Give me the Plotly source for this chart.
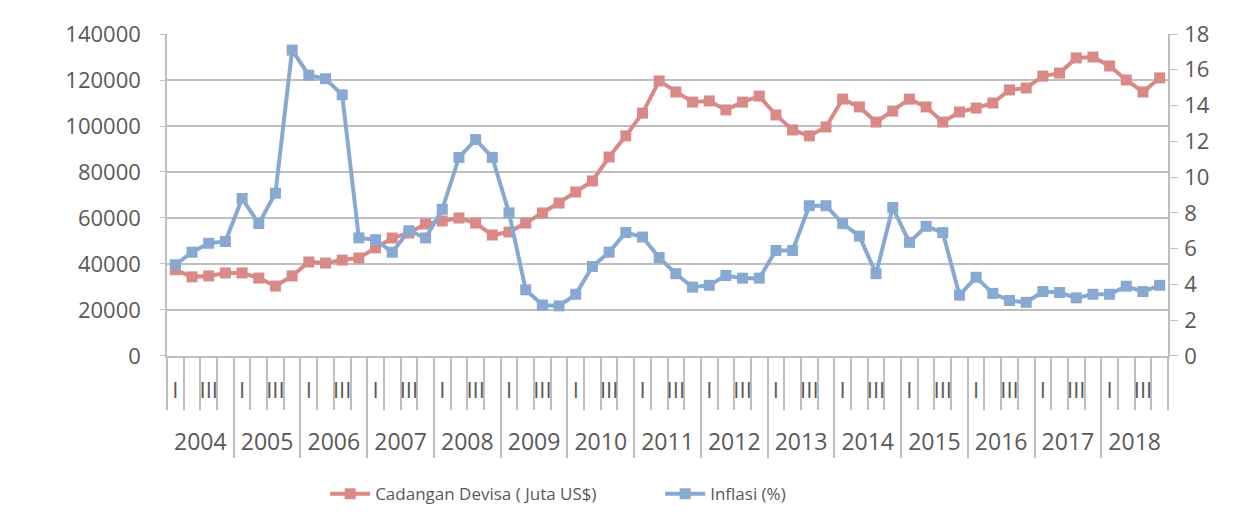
import plotly.graph_objects as go

years = [str(y) for y in range(2004, 2019)]
quarters = ["I", "II", "III", "IV"]
quarter_labels = ["I", "", "III", ""]

cadangan = [37500, 34400, 34800, 36100, 36100, 33900, 30400, 34800, 40900, 40400,
            41700, 42600, 47000, 51300, 53500, 57400, 58700, 60000, 57800, 52600,
            53900, 57800, 62200, 66500, 71300, 76100, 86500, 95700, 105600, 119600,
            114800, 110400, 110900, 107000, 110400, 113000, 104800, 98300, 95700, 99600,
            111700, 108300, 101700, 106500, 111700, 108300, 101700, 106100, 107800, 110000,
            115700, 116500, 121700, 123000, 129600, 130000, 126100, 120000, 114800, 120900]

inflasi = [5.1, 5.8, 6.3, 6.4, 8.8, 7.4, 9.1, 17.1, 15.7, 15.5,
           14.6, 6.6, 6.5, 5.8, 7.0, 6.6, 8.2, 11.1, 12.1, 11.1,
           8.0, 3.7, 2.85, 2.8, 3.45, 5.0, 5.8, 6.9, 6.65, 5.5,
           4.6, 3.85, 3.95, 4.5, 4.35, 4.35, 5.9, 5.9, 8.4, 8.4,
           7.4, 6.7, 4.6, 8.3, 6.35, 7.25, 6.9, 3.4, 4.4, 3.5,
           3.1, 3.0, 3.6, 3.55, 3.25, 3.45, 3.45, 3.9, 3.6, 3.95]

x_cats = [f"{y} {q}" for y in years for q in quarters]
x_text = [lbl for _ in years for lbl in quarter_labels]

red = "#D98986"
blue = "#87A9D2"
grey_text = "#595959"
grid = "#BFBFBF"
font_family = "Open Sans"

fig = go.Figure()
fig.add_trace(go.Scatter(
    x=x_cats, y=cadangan, name="Cadangan Devisa ( Juta US$)",
    mode="lines+markers", line=dict(color=red, width=4),
    marker=dict(symbol="square", size=11, color=red), xaxis="x", yaxis="y"))
fig.add_trace(go.Scatter(
    x=x_cats, y=inflasi, name="Inflasi (%)",
    mode="lines+markers", line=dict(color=blue, width=4),
    marker=dict(symbol="square", size=11, color=blue), xaxis="x", yaxis="y2"))
# empty helper trace so the year (outer) category axis gets its categories
fig.add_trace(go.Scatter(
    x=years, y=[None] * len(years), mode="lines", showlegend=False,
    hoverinfo="skip", xaxis="x2", yaxis="y"))

fig.update_layout(
    width=1240, height=518,
    margin=dict(l=159, r=80, t=26, b=64, autoexpand=False),
    paper_bgcolor="white", plot_bgcolor="white",
    font=dict(family=font_family, size=22, color=grey_text),
    showlegend=True,
    legend=dict(orientation="h", x=0.158, xanchor="left", y=-0.075, yanchor="middle",
                font=dict(size=17, color=grey_text), entrywidth=280, entrywidthmode="pixels",
                itemwidth=40),
    xaxis=dict(type="category", categoryorder="array", categoryarray=x_cats,
               tickmode="array", tickvals=x_cats, ticktext=x_text,
               range=[-0.5, len(x_cats) - 0.5], anchor="y",
               showline=True, linecolor=grid, linewidth=1.5,
               tickson="boundaries", ticks="outside", ticklen=52, tickcolor=grid, tickwidth=1.5,
               tickangle=0, showgrid=False, automargin=False, ticklabelstandoff=14,
               tickfont=dict(size=22, color=grey_text)),
    xaxis2=dict(type="category", categoryorder="array", categoryarray=years,
                range=[-0.5, len(years) - 0.5], anchor="free", position=0.00935,
                overlaying="x", side="bottom", showline=False,
                tickson="boundaries", ticks="inside", ticklen=102, tickcolor=grid, tickwidth=1.5,
                ticklabelstandoff=-32, tickangle=0, showgrid=False, automargin=False,
                tickfont=dict(size=23, color=grey_text)),
    yaxis=dict(domain=[0.2477, 1], range=[0, 140000], dtick=20000, tickformat="d", showgrid=True,
               gridcolor=grid, gridwidth=1.5, showline=True, linecolor=grid, linewidth=1.5,
               ticks="outside", ticklen=5, tickcolor=grid, zeroline=False,
               automargin=False, ticklabelstandoff=15),
    yaxis2=dict(range=[0, 18], dtick=2, overlaying="y", side="right", showgrid=False,
                showline=True, linecolor=grid, linewidth=1.5, ticks="outside", ticklen=8,
                tickcolor=grid, zeroline=False, automargin=False, ticklabelstandoff=2),
)

fig.write_html("out.html")
